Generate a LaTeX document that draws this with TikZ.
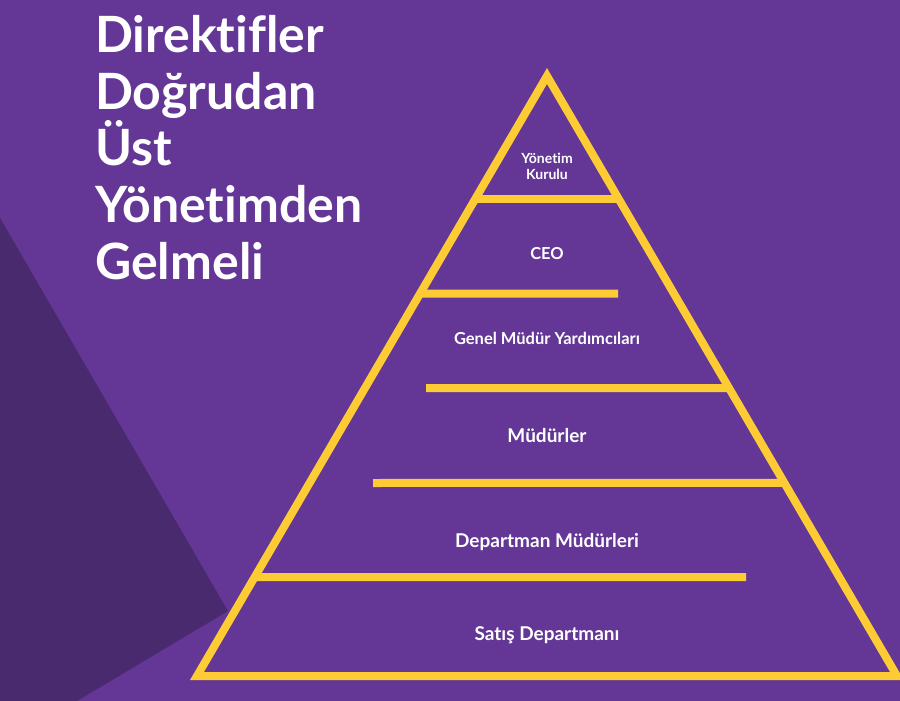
\documentclass[tikz,border=0pt]{standalone}
\usepackage{fontspec}
\setmainfont[Ligatures=NoCommon]{Lato}
\usepackage{xcolor}
\usetikzlibrary{positioning,calc}

\definecolor{bgpurple}{HTML}{643796}
\definecolor{darkpurple}{HTML}{4A2A6E}
\definecolor{pyryellow}{HTML}{FDCC35}

\begin{document}
\begin{tikzpicture}[
  x=1pt, y=-1pt,
  level/.style={text=white, font=\bfseries\fontsize{16.5}{18}\selectfont, align=center, inner sep=0pt, anchor=base},
  biglevel/.style={level, font=\bfseries\fontsize{19}{21}\selectfont},
  bar/.style={draw=pyryellow, line width=8pt},
  headline/.style={text=white, font=\bfseries\fontsize{50}{56.7}\selectfont, align=left, inner sep=0pt, anchor=north west}
]
\fill[bgpurple] (0,0) rectangle (900,701);
\useasboundingbox (0,0) rectangle (900,701);
\fill[darkpurple] (0,218) -- (228,611) -- (77,701) -- (0,701) -- cycle;
% pyramid outline
\coordinate (apex) at (547,76);
\coordinate (bl) at (197,676);
\coordinate (br) at (897,676);
\draw[bar, line join=miter] (apex) -- (bl) -- (br) -- cycle;
% level bars
\draw[bar] ($(apex)!.205!(bl)$) -- ($(apex)!.205!(br)$);
\draw[bar] ($(apex)!.3625!(bl)$) -- (618,293.5);
\draw[bar] (426,388) -- ($(apex)!.52!(br)$);
\draw[bar] (373,483) -- ($(apex)!.678!(br)$);
\draw[bar] ($(apex)!.835!(bl)$) -- (746,577);
% labels
\node[headline] (title) at (95,15) {Direktifler\\Doğrudan\\Üst\\Yönetimden\\Gelmeli};
\node[level, font=\bfseries\fontsize{14}{16}\selectfont, anchor=center] (board) at (547,166) {Yönetim\\Kurulu};
\node[level] (ceo) at (547,259) {CEO};
\node[level] (gmy) at (547,344) {Genel Müdür Yardımcıları};
\node[biglevel] (mgr) at (547,442) {Müdürler};
\node[biglevel] (dept) at (547,547) {Departman Müdürleri};
\node[biglevel] (sales) at (547,640) {Satış Departmanı};
\end{tikzpicture}
\end{document}
